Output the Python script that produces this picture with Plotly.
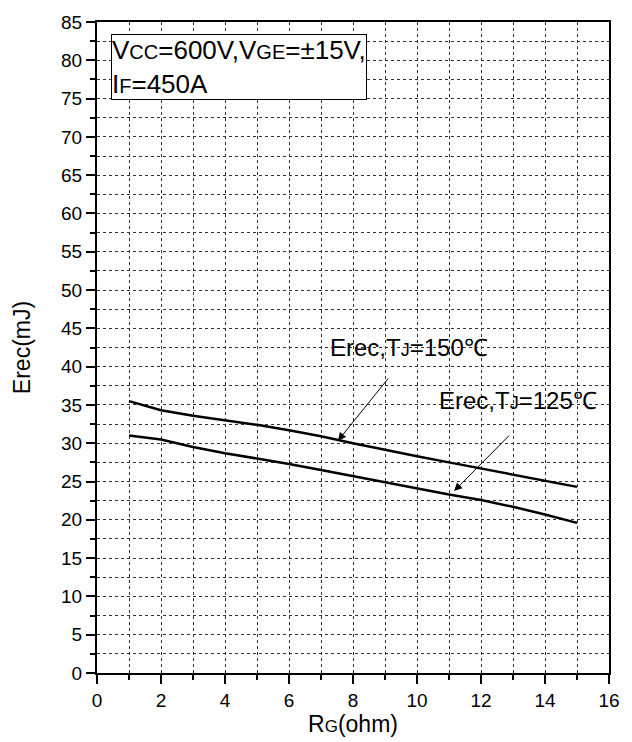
import plotly.graph_objects as go

rg = [1, 2, 3, 4, 5, 6, 7, 8, 9, 10, 11, 12, 13, 14, 15]
erec_150 = [35.5, 34.3, 33.6, 33.0, 32.4, 31.7, 30.9, 30.0, 29.1, 28.3, 27.5, 26.7, 25.9, 25.1, 24.3]
erec_125 = [31.0, 30.5, 29.5, 28.7, 28.0, 27.3, 26.5, 25.7, 24.9, 24.1, 23.3, 22.6, 21.7, 20.7, 19.6]

FONT = "Liberation Sans, Arial, sans-serif"

fig = go.Figure()
fig.add_trace(go.Scatter(x=rg, y=erec_150, mode="lines", line=dict(color="black", width=2.5), showlegend=False))
fig.add_trace(go.Scatter(x=rg, y=erec_125, mode="lines", line=dict(color="black", width=2.5), showlegend=False))

small = lambda s, px: f"<span style='font-size:{px}px'>{s}</span>"

GRID = "#333333"
axis_common = dict(
    showline=True, linecolor="black", linewidth=2, mirror=True,
    ticks="outside", ticklen=9, tickwidth=2, tickcolor="black",
    showgrid=True, gridcolor=GRID, griddash="dot", gridwidth=1,
    zeroline=False,
    tickfont=dict(family=FONT, size=19, color="black"),
)

fig.update_xaxes(
    range=[0, 16], dtick=2, tick0=0,
    minor=dict(dtick=1, ticks="outside", ticklen=5, tickwidth=2, tickcolor="black",
               showgrid=True, gridcolor=GRID, griddash="dot", gridwidth=1),
    title=dict(text="R" + small("G", 17) + "(ohm)", font=dict(family=FONT, size=23, color="black"), standoff=2),
    **axis_common,
)
fig.update_yaxes(
    range=[0, 85], dtick=5, tick0=0,
    minor=dict(dtick=2.5, ticks="outside", ticklen=5, tickwidth=2, tickcolor="black",
               showgrid=True, gridcolor=GRID, griddash="dot", gridwidth=1),
    title=dict(text="Erec(mJ)", font=dict(family=FONT, size=23, color="black"), standoff=24),
    **axis_common,
)

# condition box
fig.add_annotation(
    xref="paper", yref="paper", x=0.027, y=0.981, xanchor="left", yanchor="top",
    text="V" + small("CC", 20) + "=600V,V" + small("GE", 20) + "=±15V,<br>I" + small("F", 20) + "=450A",
    showarrow=False, align="left",
    font=dict(family=FONT, size=26, color="black"),
    bordercolor="black", borderwidth=1, borderpad=0, bgcolor="white",
)

# curve labels
fig.add_annotation(x=9.76, y=42.5, text="Erec,T" + small("J", 18) + "=150℃", showarrow=False,
                   font=dict(family=FONT, size=24, color="black"))
fig.add_annotation(x=13.15, y=35.6, text="Erec,T" + small("J", 18) + "=125℃", showarrow=False,
                   font=dict(family=FONT, size=24, color="black"))

# arrows
fig.add_annotation(x=7.53, y=30.33, ax=9.14, ay=38.66, axref="x", ayref="y", text="",
                   showarrow=True, arrowhead=2, arrowsize=1.6, arrowwidth=1, arrowcolor="black")
fig.add_annotation(x=11.16, y=23.76, ax=12.92, ay=31.18, axref="x", ayref="y", text="",
                   showarrow=True, arrowhead=2, arrowsize=1.6, arrowwidth=1, arrowcolor="black")

fig.update_layout(
    width=632, height=742,
    margin=dict(l=97, r=20, t=17, b=69),
    plot_bgcolor="white", paper_bgcolor="white",
    font=dict(family=FONT, color="black"),
)

fig.write_html("out.html")
